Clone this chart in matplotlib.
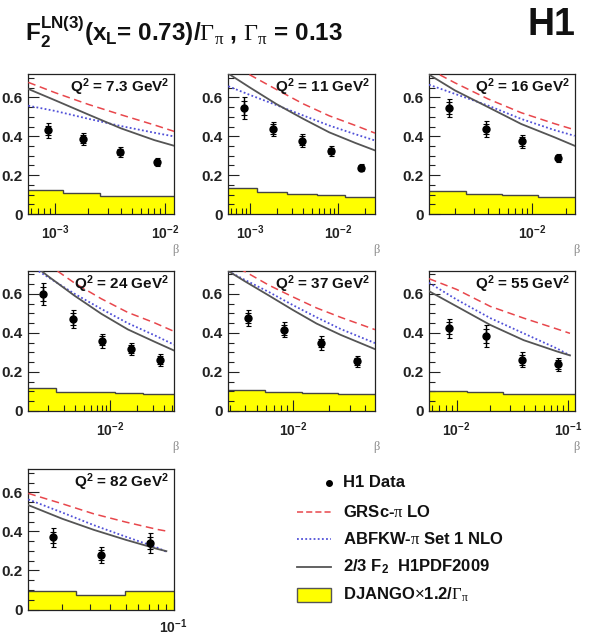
import numpy as np
import matplotlib
matplotlib.use('Agg')
import matplotlib.pyplot as plt
from matplotlib.ticker import FixedLocator, FuncFormatter, MultipleLocator
from matplotlib.patches import Rectangle
from matplotlib.lines import Line2D

plt.rcParams['font.family'] = ['Liberation Sans', 'DejaVu Sans']
plt.rcParams['mathtext.fontset'] = 'custom'
plt.rcParams['mathtext.rm'] = 'Liberation Sans'
plt.rcParams['mathtext.bf'] = 'Liberation Sans:bold'
plt.rcParams['mathtext.it'] = 'Liberation Sans:italic'
plt.rcParams['mathtext.sf'] = 'Liberation Serif'

# ---------------- data ----------------
q2_labels = ["7.3", "11", "16", "24", "37", "55", "82"]

data_beta = [
    [8.6e-4, 1.81e-3, 3.9e-3, 8.4e-3],
    [8.6e-4, 1.84e-3, 3.93e-3, 8.3e-3, 1.81e-2],
    [1.78e-3, 3.79e-3, 8.0e-3, 1.7e-2],
    [1.75e-3, 3.77e-3, 8.0e-3, 1.7e-2, 3.65e-2],
    [4.2e-3, 8.5e-3, 1.71e-2, 3.45e-2],
    [8.6e-3, 1.82e-2, 3.87e-2, 8.12e-2],
    [1.75e-2, 3.52e-2, 7.14e-2],
]
data_f2 = [
    [0.430, 0.387, 0.318, 0.266],
    [0.545, 0.438, 0.378, 0.325, 0.239],
    [0.545, 0.438, 0.373, 0.290],
    [0.600, 0.472, 0.360, 0.317, 0.262],
    [0.477, 0.417, 0.348, 0.254],
    [0.424, 0.385, 0.263, 0.239],
    [0.369, 0.279, 0.342],
]
data_err_tot = [
    [0.040, 0.030, 0.025, 0.020],
    [0.055, 0.035, 0.035, 0.025, 0.020],
    [0.045, 0.040, 0.035, 0.020],
    [0.055, 0.045, 0.035, 0.030, 0.030],
    [0.040, 0.040, 0.035, 0.030],
    [0.050, 0.055, 0.040, 0.035],
    [0.050, 0.040, 0.050],
]
data_err_stat = [
    [0.025, 0.020, 0.015, 0.012],
    [0.035, 0.025, 0.022, 0.015, 0.012],
    [0.030, 0.025, 0.022, 0.012],
    [0.035, 0.030, 0.022, 0.020, 0.020],
    [0.025, 0.025, 0.022, 0.020],
    [0.030, 0.035, 0.025, 0.022],
    [0.030, 0.025, 0.030],
]

theory_beta = [
    [5.71e-4, 1.0e-3, 2.0e-3, 4.0e-3, 8.0e-3, 1.21e-2],
    [5.66e-4, 1.0e-3, 2.0e-3, 4.0e-3, 7.94e-3, 1.58e-2, 2.63e-2],
    [1.17e-3, 2.0e-3, 3.98e-3, 7.94e-3, 1.58e-2, 2.41e-2],
    [1.19e-3, 2.0e-3, 3.98e-3, 7.94e-3, 1.58e-2, 3.16e-2, 5.24e-2],
    [2.9e-3, 3.98e-3, 6.31e-3, 1.0e-2, 1.58e-2, 2.51e-2, 4.85e-2],
    [5.65e-3, 1.0e-2, 2.0e-2, 3.98e-2, 7.94e-2, 0.1035],
    [1.225e-2, 2.0e-2, 3.16e-2, 5.01e-2, 7.94e-2, 0.09],
]
grsc_lo = [
    [0.677, 0.624, 0.564, 0.510, 0.458, 0.425],
    [0.780, 0.715, 0.640, 0.567, 0.505, 0.455, 0.416],
    [0.745, 0.675, 0.592, 0.521, 0.465, 0.433],
    [0.830, 0.750, 0.655, 0.575, 0.505, 0.452, 0.408],
    [0.760, 0.715, 0.645, 0.585, 0.528, 0.480, 0.417],
    [0.678, 0.623, 0.536, 0.476, 0.420, 0.398],
    [0.595, 0.542, 0.490, 0.448, 0.410, 0.402],
]
abfkw_nlo = [
    [0.557, 0.530, 0.490, 0.452, 0.418, 0.399],
    [0.657, 0.612, 0.560, 0.507, 0.455, 0.410, 0.378],
    [0.665, 0.618, 0.558, 0.489, 0.432, 0.402],
    [0.750, 0.685, 0.600, 0.523, 0.450, 0.388, 0.340],
    [0.717, 0.672, 0.610, 0.543, 0.480, 0.420, 0.348],
    [0.657, 0.571, 0.476, 0.398, 0.320, 0.285],
    [0.564, 0.497, 0.432, 0.373, 0.316, 0.296],
]
h1pdf = [
    [0.643, 0.585, 0.512, 0.440, 0.380, 0.351],
    [0.722, 0.650, 0.565, 0.490, 0.420, 0.365, 0.327],
    [0.717, 0.636, 0.550, 0.463, 0.395, 0.351],
    [0.770, 0.690, 0.590, 0.498, 0.418, 0.355, 0.310],
    [0.717, 0.665, 0.592, 0.518, 0.448, 0.390, 0.317],
    [0.614, 0.536, 0.441, 0.363, 0.305, 0.285],
    [0.535, 0.465, 0.408, 0.357, 0.310, 0.299],
]

django_edges = [
    [4e-4, 1.19e-3, 2.56e-3, 2e-2],
    [4e-4, 1.19e-3, 2.61e-3, 5.73e-3, 1.2e-2, 4e-2],
    [1e-3, 2.52e-3, 5.3e-3, 1.13e-2, 3e-2],
    [1e-3, 2.44e-3, 1.13e-2, 2.35e-2, 6e-2],
    [2e-3, 5.88e-3, 1.19e-2, 2.4e-2, 6e-2],
    [4e-3, 1.23e-2, 2.61e-2, 0.2],
    [1e-2, 2.45e-2, 4.93e-2, 0.2],
]
django_vals = [
    [0.124, 0.107, 0.093],
    [0.132, 0.112, 0.103, 0.098, 0.089],
    [0.120, 0.103, 0.098, 0.089],
    [0.120, 0.0995, 0.094, 0.086],
    [0.108, 0.099, 0.094, 0.086],
    [0.104, 0.095, 0.087],
    [0.094, 0.0735, 0.094],
]

# ---------------- layout ----------------
W, H = 589, 636
fig = plt.figure(figsize=(W / 100, H / 100), dpi=100)

cols = [(28.3, 174.0), (228.3, 375.0), (429.0, 575.0)]
rows = [(74.0, 214.0), (270.5, 411.0), (469.0, 609.5)]
xlims = [(5.71e-4, 1.208e-2), (5.66e-4, 2.63e-2), (1.17e-3, 2.43e-2),
         (1.19e-3, 5.24e-2), (2.9e-3, 4.85e-2), (5.65e-3, 0.1148),
         (1.225e-2, 0.1005)]
show_beta = [True, True, True, True, True, True, False]

RED = '#e8474c'
BLUE = '#5050d8'
GRAY = '#555555'
YEL = '#ffff00'
DARK = '#222222'


def decade_fmt(v, pos):
    e = int(round(np.log10(v)))
    return r'10$^{\mathbf{%d}}$' % e


def y_fmt(v, pos):
    if abs(v) < 1e-9:
        return '0'
    return '%.1f' % v


for i in range(7):
    c, r = i % 3, i // 3
    l, rt = cols[c]
    t, b = rows[r]
    ax = fig.add_axes([l / W, 1 - b / H, (rt - l) / W, (b - t) / H])
    ax.set_xscale('log')
    ax.set_xlim(*xlims[i])
    ax.set_ylim(0, 0.72)

    ax.stairs(django_vals[i], django_edges[i], baseline=0, fill=True,
              facecolor=YEL, edgecolor='none', zorder=1)
    ax.stairs(django_vals[i], django_edges[i], baseline=None,
              color='#444444', lw=1.0, zorder=2)

    ax.plot(theory_beta[i], grsc_lo[i], color=RED, lw=1.1,
            ls=(0, (5, 3)), zorder=3)
    ax.plot(theory_beta[i], abfkw_nlo[i], color=BLUE, lw=1.3,
            ls=(0, (1, 1.3)), zorder=3)
    ax.plot(theory_beta[i], h1pdf[i], color=GRAY, lw=1.3, zorder=3)

    ax.errorbar(data_beta[i], data_f2[i], yerr=data_err_tot[i], fmt='o',
                color='black', ms=5, elinewidth=1.0, capsize=1.8,
                capthick=0.8, zorder=5)
    ax.errorbar(data_beta[i], data_f2[i], yerr=data_err_stat[i], fmt='none',
                ecolor='black', elinewidth=1.0, capsize=2.2, capthick=0.8,
                zorder=5)

    lo, hi = xlims[i]
    decs = [10.0 ** e for e in range(-5, 1) if lo <= 10.0 ** e <= hi]
    minors = [m * 10.0 ** e for e in range(-5, 1) for m in range(2, 10)
              if lo <= m * 10.0 ** e <= hi]
    ax.xaxis.set_major_locator(FixedLocator(decs))
    ax.xaxis.set_minor_locator(FixedLocator(minors))
    ax.xaxis.set_major_formatter(FuncFormatter(decade_fmt))
    ax.xaxis.set_minor_formatter(FuncFormatter(lambda v, p: ''))
    ax.yaxis.set_major_locator(FixedLocator([0, 0.2, 0.4, 0.6]))
    ax.yaxis.set_minor_locator(MultipleLocator(0.05))
    ax.yaxis.set_major_formatter(FuncFormatter(y_fmt))

    ax.tick_params(which='both', direction='in', top=False, right=False,
                   color=DARK, width=0.8)
    ax.tick_params(which='major', length=8)
    ax.tick_params(which='minor', length=4)
    ax.tick_params(axis='y', which='major', labelsize=11, pad=4,
                   labelcolor=DARK)
    ax.tick_params(axis='x', which='major', labelsize=10,
                   pad=(6.0 if i == 6 else 7.0), labelcolor=DARK)
    for lab in ax.get_xticklabels() + ax.get_yticklabels():
        lab.set_fontweight('bold')
    for sp in ax.spines.values():
        sp.set_color(DARK)
        sp.set_linewidth(0.9)

    ax.text(0.965, 0.905,
            r'Q$^{\mathbf{2}}$ = %s GeV$^{\mathbf{2}}$' % q2_labels[i],
            transform=ax.transAxes, ha='right', va='center',
            fontsize=11, fontweight='bold', color='#111111', zorder=6)

    if show_beta[i]:
        fig.text((rt + 1) / W, 1 - (b + 36) / H, 'β', ha='center',
                 va='center', fontsize=9, color='#888888',
                 family='Liberation Serif')

# ---------------- title ----------------
fig.text(25 / W, 1 - 41 / H,
         r'F$_{\mathbf{2}}^{\mathbf{LN(3)}}$(x$_{\mathbf{L}}$= 0.73)/'
         r'$\mathsf{\Gamma}_{\mathsf{\pi}}$ , $\mathsf{\Gamma}_{\mathsf{\pi}}$ = 0.13',
         ha='left', va='baseline', fontsize=17.5, fontweight='bold',
         color='#111111')
fig.text(575 / W, 1 - 25 / H, 'H1', ha='right', va='center', fontsize=27,
         fontweight='bold', color='#111111')

# ---------------- legend ----------------
lax = fig.add_axes([0, 0, 1, 1])
lax.set_xlim(0, W)
lax.set_ylim(H, 0)
lax.axis('off')
rows_y = [482.7, 511.7, 539.3, 566.7, 595.0]
hx0, hx1, tx = 297.0, 331.0, 342.7
lax.add_line(Line2D([hx1 - 2], [rows_y[0]], marker='o', color='black',
                    ms=4, ls='none'))
lax.add_line(Line2D([hx0, hx1], [rows_y[1]] * 2, color=RED, lw=1.1,
                    ls=(0, (4, 2))))
lax.add_line(Line2D([hx0, hx1], [rows_y[2]] * 2, color=BLUE, lw=1.3,
                    ls=(0, (1, 1.3))))
lax.add_line(Line2D([hx0, hx1], [rows_y[3]] * 2, color=GRAY, lw=1.3))
lax.add_patch(Rectangle((hx0, rows_y[4] - 7), hx1 - hx0, 14, facecolor=YEL,
                        edgecolor='#555555', lw=1.0))
leg_labels = ['H1 Data', r'GRSc-$\mathsf{\pi}$ LO',
              r'ABFKW-$\mathsf{\pi}$ Set 1 NLO',
              r'2/3 F$_{\mathbf{2}}$  H1PDF2009',
              r'DJANGO$\times$1.2/$\mathsf{\Gamma}_{\mathsf{\pi}}$']
for y, lab in zip(rows_y, leg_labels):
    lax.text(tx, y, lab, ha='left', va='center', fontsize=12,
             fontweight='bold', color='#111111')

fig.savefig('out.png', dpi=100)
